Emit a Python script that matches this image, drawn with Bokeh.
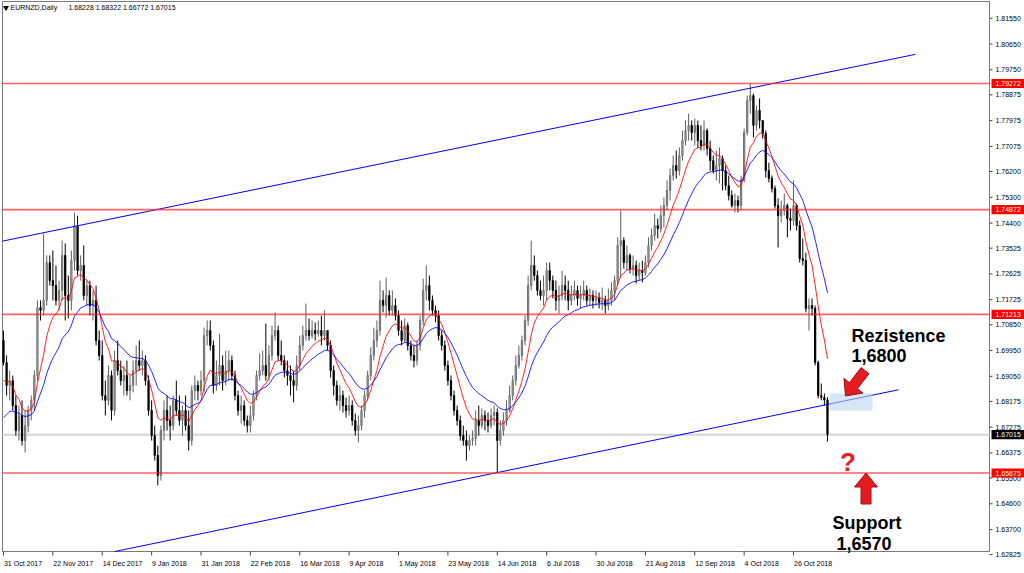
import math
from bokeh.plotting import figure
from bokeh.models import Range1d, Label, ColumnDataSource
from bokeh.core.properties import value
from bokeh.embed import file_html
from bokeh.resources import INLINE

# ------------------------------------------------------------------ data
symbol_title = "EURNZD,Daily"
last_ohlc = [1.68228, 1.68322, 1.66772, 1.67015]

date_labels = ["31 Oct 2017", "22 Nov 2017", "14 Dec 2017", "9 Jan 2018", "31 Jan 2018",
               "22 Feb 2018", "16 Mar 2018", "9 Apr 2018", "1 May 2018", "23 May 2018",
               "14 Jun 2018", "6 Jul 2018", "30 Jul 2018", "21 Aug 2018", "12 Sep 2018",
               "4 Oct 2018", "26 Oct 2018"]
date_label_bars = [0, 16, 32, 48, 64, 80, 96, 112, 128, 144, 160, 176, 192, 208, 224, 240, 256]

price_ticks = [1.81550, 1.80650, 1.79750, 1.78875, 1.77975, 1.77075, 1.76200, 1.75300,
               1.74400, 1.73525, 1.72625, 1.71725, 1.70850, 1.69950, 1.69050, 1.68175,
               1.67275, 1.66375, 1.65500, 1.64600, 1.63700, 1.62825]

first_open = 1.7030
closes = [
    1.6953, 1.6873, 1.6890, 1.6803, 1.6716, 1.6768, 1.6681, 1.6733, 1.6786, 1.6821,
    1.6908, 1.7145, 1.7135, 1.7170, 1.7302, 1.7239, 1.7222, 1.7170, 1.7205, 1.7327,
    1.7187, 1.7170, 1.7309, 1.7431, 1.7274, 1.7292, 1.7187, 1.7222, 1.7152, 1.7170,
    1.7030, 1.6978, 1.6838, 1.6821, 1.6908, 1.6786, 1.6960, 1.6925, 1.6890, 1.6908,
    1.6855, 1.6873, 1.6925, 1.6960, 1.6943, 1.6960, 1.6890, 1.6786, 1.6698, 1.6629,
    1.6559, 1.6716, 1.6786, 1.6751, 1.6733, 1.6821, 1.6786, 1.6751, 1.6786, 1.6733,
    1.6681, 1.6855, 1.6873, 1.6855, 1.6890, 1.7047, 1.7065, 1.7013, 1.6873, 1.6908,
    1.6943, 1.6890, 1.6925, 1.6960, 1.6908, 1.6838, 1.6786, 1.6803, 1.6751, 1.6733,
    1.6768, 1.6838, 1.6908, 1.6925, 1.6943, 1.6908, 1.6978, 1.7047, 1.7065, 1.6978,
    1.6960, 1.6925, 1.6908, 1.6890, 1.6873, 1.6943, 1.7013, 1.7047, 1.7065, 1.7047,
    1.7065, 1.7054, 1.7065, 1.7047, 1.7065, 1.7013, 1.6925, 1.6873, 1.6821, 1.6838,
    1.6803, 1.6786, 1.6803, 1.6751, 1.6716, 1.6733, 1.6786, 1.6838, 1.6908, 1.6978,
    1.7030, 1.7065, 1.7170, 1.7152, 1.7187, 1.7135, 1.7152, 1.7117, 1.7065, 1.7030,
    1.7082, 1.7013, 1.6978, 1.6960, 1.7013, 1.7100, 1.7205, 1.7222, 1.7170, 1.7135,
    1.7117, 1.7047, 1.7013, 1.6943, 1.6890, 1.6838, 1.6786, 1.6751, 1.6698, 1.6681,
    1.6663, 1.6681, 1.6688, 1.6751, 1.6733, 1.6768, 1.6751, 1.6733, 1.6768, 1.6779,
    1.6681, 1.6716, 1.6751, 1.6786, 1.6838, 1.6890, 1.6943, 1.6978, 1.7030, 1.7100,
    1.7222, 1.7292, 1.7257, 1.7205, 1.7187, 1.7205, 1.7274, 1.7239, 1.7205, 1.7170,
    1.7187, 1.7222, 1.7205, 1.7170, 1.7187, 1.7205, 1.7177, 1.7187, 1.7205, 1.7170,
    1.7187, 1.7170, 1.7177, 1.7163, 1.7170, 1.7152, 1.7170, 1.7205, 1.7239, 1.7362,
    1.7379, 1.7302, 1.7327, 1.7281, 1.7292, 1.7257, 1.7274, 1.7267, 1.7302, 1.7362,
    1.7397, 1.7431, 1.7421, 1.7466, 1.7501, 1.7554, 1.7606, 1.7641, 1.7623, 1.7676,
    1.7728, 1.7763, 1.7781, 1.7756, 1.7781, 1.7728, 1.7711, 1.7763, 1.7700, 1.7658,
    1.7623, 1.7641, 1.7665, 1.7623, 1.7571, 1.7536, 1.7501, 1.7519, 1.7501, 1.7589,
    1.7756, 1.7868, 1.7885, 1.7781, 1.7833, 1.7798, 1.7753, 1.7623, 1.7596, 1.7561,
    1.7501, 1.7466, 1.7484, 1.7501, 1.7456, 1.7449, 1.7501, 1.7431, 1.7316, 1.7309,
    1.7142, 1.7152, 1.7142, 1.6953, 1.6838, 1.6831, 1.68228, 1.67015,
]
highs = [
    1.7065, 1.6978, 1.6925, 1.6908, 1.6838, 1.6803, 1.6821, 1.6786, 1.6803, 1.6838,
    1.6925, 1.7170, 1.7170, 1.7404, 1.7327, 1.7327, 1.7344, 1.7292, 1.7239, 1.7379,
    1.7369, 1.7257, 1.7344, 1.7477, 1.7466, 1.7327, 1.7362, 1.7239, 1.7239, 1.7205,
    1.7222, 1.7065, 1.7030, 1.6890, 1.6943, 1.6925, 1.6995, 1.7030, 1.6960, 1.6943,
    1.6960, 1.6908, 1.6960, 1.7013, 1.7030, 1.6995, 1.6978, 1.6908, 1.6821, 1.6733,
    1.6663, 1.6733, 1.6821, 1.6838, 1.6803, 1.6838, 1.6890, 1.6838, 1.6803, 1.6838,
    1.6786, 1.6873, 1.6908, 1.6890, 1.6925, 1.7075, 1.7100, 1.7100, 1.7030, 1.6960,
    1.7054, 1.6978, 1.6995, 1.6995, 1.6978, 1.6925, 1.6855, 1.6838, 1.6821, 1.6768,
    1.6803, 1.6855, 1.6925, 1.6985, 1.6995, 1.7089, 1.7013, 1.7082, 1.7128, 1.7082,
    1.7030, 1.6978, 1.6960, 1.6943, 1.6925, 1.6978, 1.7047, 1.7082, 1.7159, 1.7107,
    1.7100, 1.7093, 1.7100, 1.7117, 1.7135, 1.7065, 1.7030, 1.6943, 1.6890, 1.6873,
    1.6855, 1.6831, 1.6838, 1.6821, 1.6775, 1.6768, 1.6803, 1.6855, 1.6925, 1.7006,
    1.7075, 1.7100, 1.7239, 1.7205, 1.7250, 1.7205, 1.7205, 1.7177, 1.7135, 1.7100,
    1.7107, 1.7093, 1.7030, 1.7013, 1.7030, 1.7117, 1.7246, 1.7292, 1.7257, 1.7187,
    1.7152, 1.7135, 1.7065, 1.7030, 1.6960, 1.6908, 1.6855, 1.6803, 1.6768, 1.6733,
    1.6716, 1.6698, 1.6716, 1.6786, 1.6803, 1.6793, 1.6786, 1.6779, 1.6793, 1.6803,
    1.6793, 1.6751, 1.6779, 1.6821, 1.6873, 1.6908, 1.6978, 1.7013, 1.7047, 1.7117,
    1.7257, 1.7379, 1.7327, 1.7274, 1.7239, 1.7257, 1.7302, 1.7302, 1.7257, 1.7239,
    1.7222, 1.7274, 1.7257, 1.7239, 1.7222, 1.7239, 1.7222, 1.7222, 1.7239, 1.7222,
    1.7212, 1.7205, 1.7205, 1.7198, 1.7215, 1.7187, 1.7212, 1.7233, 1.7257, 1.7390,
    1.7484, 1.7390, 1.7362, 1.7334, 1.7327, 1.7309, 1.7302, 1.7309, 1.7327, 1.7390,
    1.7421, 1.7473, 1.7456, 1.7501, 1.7529, 1.7589, 1.7630, 1.7676, 1.7693, 1.7704,
    1.7763, 1.7798, 1.7822, 1.7798, 1.7805, 1.7798, 1.7781, 1.7798, 1.7770, 1.7728,
    1.7676, 1.7693, 1.7704, 1.7676, 1.7641, 1.7606, 1.7554, 1.7543, 1.7536, 1.7606,
    1.7770, 1.7885, 1.7927, 1.7892, 1.7850, 1.7875, 1.7798, 1.7763, 1.7651, 1.7606,
    1.7571, 1.7526, 1.7519, 1.7543, 1.7508, 1.7491, 1.7589, 1.7508, 1.7449, 1.7386,
    1.7337, 1.7177, 1.7177, 1.7152, 1.6960, 1.6880, 1.6845, 1.68322,
]
lows = [
    1.6943, 1.6838, 1.6821, 1.6786, 1.6698, 1.6681, 1.6663, 1.6639, 1.6709, 1.6751,
    1.6786, 1.6890, 1.7100, 1.7117, 1.7152, 1.7222, 1.7170, 1.7152, 1.7135, 1.7170,
    1.7100, 1.7107, 1.7135, 1.7274, 1.7257, 1.7239, 1.7170, 1.7152, 1.7117, 1.7100,
    1.7013, 1.6960, 1.6821, 1.6768, 1.6803, 1.6751, 1.6768, 1.6908, 1.6873, 1.6838,
    1.6838, 1.6821, 1.6849, 1.6873, 1.6925, 1.6908, 1.6873, 1.6768, 1.6681, 1.6611,
    1.6524, 1.6541, 1.6681, 1.6716, 1.6681, 1.6716, 1.6768, 1.6733, 1.6698, 1.6716,
    1.6646, 1.6663, 1.6821, 1.6821, 1.6838, 1.6849, 1.7013, 1.6995, 1.6845, 1.6855,
    1.6873, 1.6855, 1.6873, 1.6890, 1.6890, 1.6821, 1.6768, 1.6740, 1.6733, 1.6709,
    1.6709, 1.6751, 1.6821, 1.6890, 1.6908, 1.6890, 1.6890, 1.6960, 1.7030, 1.6960,
    1.6943, 1.6901, 1.6873, 1.6838, 1.6814, 1.6855, 1.6925, 1.6995, 1.7030, 1.7030,
    1.7037, 1.7030, 1.7044, 1.7013, 1.7030, 1.6995, 1.6901, 1.6838, 1.6803, 1.6786,
    1.6779, 1.6761, 1.6768, 1.6733, 1.6698, 1.6674, 1.6716, 1.6761, 1.6821, 1.6890,
    1.6960, 1.7006, 1.7047, 1.7128, 1.7110, 1.7117, 1.7117, 1.7100, 1.7047, 1.7013,
    1.7023, 1.6995, 1.6960, 1.6936, 1.6943, 1.6995, 1.7082, 1.7170, 1.7135, 1.7117,
    1.7093, 1.7030, 1.6995, 1.6925, 1.6873, 1.6821, 1.6768, 1.6733, 1.6681, 1.6663,
    1.6611, 1.6646, 1.6663, 1.6663, 1.6698, 1.6723, 1.6716, 1.6709, 1.6723, 1.6733,
    1.6568, 1.6663, 1.6698, 1.6733, 1.6779, 1.6821, 1.6873, 1.6932, 1.6960, 1.7013,
    1.7082, 1.7205, 1.7239, 1.7187, 1.7170, 1.7152, 1.7170, 1.7205, 1.7177, 1.7135,
    1.7124, 1.7170, 1.7170, 1.7135, 1.7152, 1.7170, 1.7152, 1.7142, 1.7170, 1.7152,
    1.7152, 1.7142, 1.7152, 1.7142, 1.7135, 1.7124, 1.7135, 1.7152, 1.7170, 1.7222,
    1.7250, 1.7281, 1.7274, 1.7264, 1.7257, 1.7229, 1.7239, 1.7233, 1.7257, 1.7285,
    1.7344, 1.7379, 1.7386, 1.7407, 1.7425, 1.7484, 1.7519, 1.7589, 1.7596, 1.7606,
    1.7658, 1.7711, 1.7728, 1.7728, 1.7711, 1.7704, 1.7693, 1.7693, 1.7676, 1.7623,
    1.7613, 1.7589, 1.7578, 1.7554, 1.7554, 1.7519, 1.7494, 1.7477, 1.7477, 1.7484,
    1.7582, 1.7746, 1.7822, 1.7739, 1.7763, 1.7770, 1.7735, 1.7599, 1.7582, 1.7547,
    1.7491, 1.7355, 1.7442, 1.7466, 1.7390, 1.7414, 1.7431, 1.7414, 1.7302, 1.7292,
    1.7128, 1.7065, 1.7117, 1.6943, 1.6828, 1.6821, 1.6803, 1.66772,
]

red_ma_period, red_ma_start = 9, 1.6890
blue_ma_period, blue_ma_start = 21, 1.6761

level_lines = [1.79272, 1.74872, 1.71213, 1.65675]
bid_price = 1.67015
support_level = 1.65675
upper_trend_bars, upper_trend_prices = [-0.3, 295.5], [1.7377, 1.8029]
lower_trend_bars, lower_trend_prices = [28.2, 290.0], [1.6276, 1.6858]
zone_bars, zone_prices = [267.7, 281.6], [1.6786, 1.6846]
resistance_text = ["Rezistence", "1,6800"]
support_text = ["Support", "1,6570"]

# ------------------------------------------------------------------ derived
n = len(closes)
opens = [first_open] + closes[:-1]
idx = list(range(n))


def ema(values, period, start):
    a = 2.0 / (period + 1)
    out = [start]
    for v in values[1:]:
        out.append(out[-1] + a * (v - out[-1]))
    return out


red_ma = ema(closes, red_ma_period, red_ma_start)
blue_ma = ema(closes, blue_ma_period, blue_ma_start)

# ------------------------------------------------------------------ geometry
W, H = 1024, 573
CL, CT, CR, CB = 2, 1, 989, 551          # chart window inside the canvas (px)
BAR_L, BAR_R = -0.324, 319.5             # bars at the chart's left / right edge
P_TOP, P_BOT = 1.82135, 1.62935          # prices at the chart's top / bottom edge
SX = (CR - CL) / (BAR_R - BAR_L)
SY = (CB - CT) / (P_TOP - P_BOT)


def bx(px):
    return BAR_L + (px - CL) / SX


def py(px):
    return P_TOP - (px - CT) / SY


FONT = "Liberation Sans"
AX = "#404040"

p = figure(width=W, height=H, x_range=Range1d(bx(0), bx(W)), y_range=Range1d(py(H), py(0)),
           output_backend="svg", toolbar_location=None, x_axis_location=None,
           y_axis_location=None, min_border=0)
p.min_border_left = p.min_border_right = p.min_border_top = p.min_border_bottom = 0
p.background_fill_color = "white"
p.border_fill_color = "white"
p.outline_line_color = None
p.grid.visible = False

# ------------------------------------------------------------------ chart window & scales
for xs_, ys_ in (([BAR_L, BAR_R], [P_TOP, P_TOP]), ([BAR_L, BAR_R], [P_BOT, P_BOT]),
                 ([BAR_L, BAR_L], [P_BOT, P_TOP]), ([BAR_R, BAR_R], [P_BOT, P_TOP])):
    p.line(xs_, ys_, line_color="#7a7a7a", line_width=1)

# price scale (right)
tick_dx = 3 / SX
for v in price_ticks:
    p.line([BAR_R, BAR_R + tick_dx], [v, v], line_color=AX, line_width=1)
p.text(x=[bx(995)] * len(price_ticks), y=price_ticks, text=[f"{v:.5f}" for v in price_ticks],
       text_font=value(FONT), text_font_size=value("7px"), text_color="#000000",
       text_baseline="middle", text_align="left")

# time scale (bottom)
tick_dy = 4 / SY
for b in date_label_bars:
    p.line([b, b], [P_BOT, P_BOT - tick_dy], line_color=AX, line_width=1)
p.text(x=[b + 0.15 for b in date_label_bars], y=[py(563.3)] * len(date_label_bars),
       text=date_labels, text_font=value(FONT), text_font_size=value("7px"),
       text_color="#000000", text_baseline="middle", text_align="left")

# bid line
p.line([BAR_L, BAR_R], [bid_price, bid_price], line_color="#d4d4d4", line_width=2)

# ------------------------------------------------------------------ candles
bull = [c >= o for o, c in zip(opens, closes)]
src = ColumnDataSource(dict(
    x=idx, h=highs, l=lows,
    top=[max(o, c) for o, c in zip(opens, closes)],
    bot=[min(o, c) for o, c in zip(opens, closes)],
    wick=["#606060" if b else "#000000" for b in bull],
    fill=["#b0b0b0" if b else "#000000" for b in bull],
    edge=["#6a6a6a" if b else "#000000" for b in bull],
))
p.segment(x0="x", y0="h", x1="x", y1="l", source=src, line_color="wick", line_width=1)
p.vbar(x="x", width=0.42, top="top", bottom="bot", source=src,
       fill_color="fill", line_color="edge", line_width=0.9)

# moving averages
p.line(idx, red_ma, line_color="#ff0000", line_width=1, line_alpha=0.85)
p.line(idx, blue_ma, line_color="#0000ff", line_width=1, line_alpha=0.85)

# trend channel (lower line clipped at the chart bottom)
p.line(upper_trend_bars, upper_trend_prices, line_color="#0000ff", line_width=1)
t = (P_BOT - lower_trend_prices[0]) / (lower_trend_prices[1] - lower_trend_prices[0])
lb0 = lower_trend_bars[0] + t * (lower_trend_bars[1] - lower_trend_bars[0])
p.line([lb0, lower_trend_bars[1]], [P_BOT, lower_trend_prices[1]],
       line_color="#0000ff", line_width=1)

# horizontal levels
for lv in level_lines:
    p.line([BAR_L, BAR_R], [lv, lv], line_color="#ff2020", line_width=1.7, line_alpha=0.7)

# resistance zone
p.quad(left=[zone_bars[0]], right=[zone_bars[1]], bottom=[zone_prices[0]], top=[zone_prices[1]],
       fill_color="#bcd6ee", fill_alpha=0.6, line_color=None)


# arrows
def arrow(tip_bar, tip_price, dx, dy, length, head_len, head_half, shaft_half):
    nrm = math.hypot(dx, dy)
    ux, uy = dx / nrm, dy / nrm
    vx, vy = -uy, ux
    pts = [(0, 0), (-head_len, head_half), (-head_len, shaft_half), (-length, shaft_half),
           (-length, -shaft_half), (-head_len, -shaft_half), (-head_len, -head_half)]
    xs, ys = [], []
    for u, v in pts:
        sx = u * ux + v * vx
        sy = u * uy + v * vy
        xs.append(tip_bar + sx / SX)
        ys.append(tip_price - sy / SY)
    return xs, ys


ax1, ay1 = arrow(bx(845), py(395.5), -18.5, 24, 32, 13, 12, 5)
ax2, ay2 = arrow(bx(865.5), support_level, 0, -1, 31, 14, 11.5, 5)
for axs, ays in ((ax1, ay1), (ax2, ay2)):
    p.patch(axs, ays, fill_color="#e51b22", line_color="#9c1014", line_width=1)

# annotation texts
for txt, xpx, ypx in ((resistance_text[0], 851, 335), (resistance_text[1], 851, 355),
                      (support_text[0], 832, 522.7), (support_text[1], 836, 542.7)):
    p.add_layout(Label(x=bx(xpx), y=py(ypx), text=txt, text_font=FONT,
                       text_font_size="18px", text_font_style="bold", text_color="#000000",
                       text_baseline="alphabetic", text_align="left"))
p.add_layout(Label(x=bx(839.5), y=py(461.7), text="?", text_font=FONT, text_font_size="26px",
                   text_font_style="bold", text_color="#e8202a", text_baseline="alphabetic"))

# title
p.scatter([bx(5.5)], [py(7.3)], marker="inverted_triangle", size=6, fill_color="black",
          line_color=None)
p.add_layout(Label(x=bx(10), y=py(7.3), text=symbol_title, text_font=FONT,
                   text_font_size="7px", text_color="#000000", text_baseline="middle"))
p.add_layout(Label(x=bx(68), y=py(7.3), text=" ".join(f"{v:.5f}" for v in last_ohlc),
                   text_font=FONT, text_font_size="7px", text_color="#000000",
                   text_baseline="middle"))

# coloured price tags
tag_prices = level_lines + [bid_price]
tag_colors = ["#ff0000"] * len(level_lines) + ["#000000"]
half = 4.6 / SY
p.quad(left=[bx(991)] * len(tag_prices), right=[bx(W)] * len(tag_prices),
       bottom=[v - half for v in tag_prices], top=[v + half for v in tag_prices],
       fill_color=tag_colors, line_color=None)
p.text(x=[bx(995)] * len(tag_prices), y=tag_prices, text=[f"{v:.5f}" for v in tag_prices],
       text_font=value(FONT), text_font_size=value("7px"), text_color="white",
       text_baseline="middle", text_align="left")

open("out.html", "w").write(file_html(p, INLINE))
